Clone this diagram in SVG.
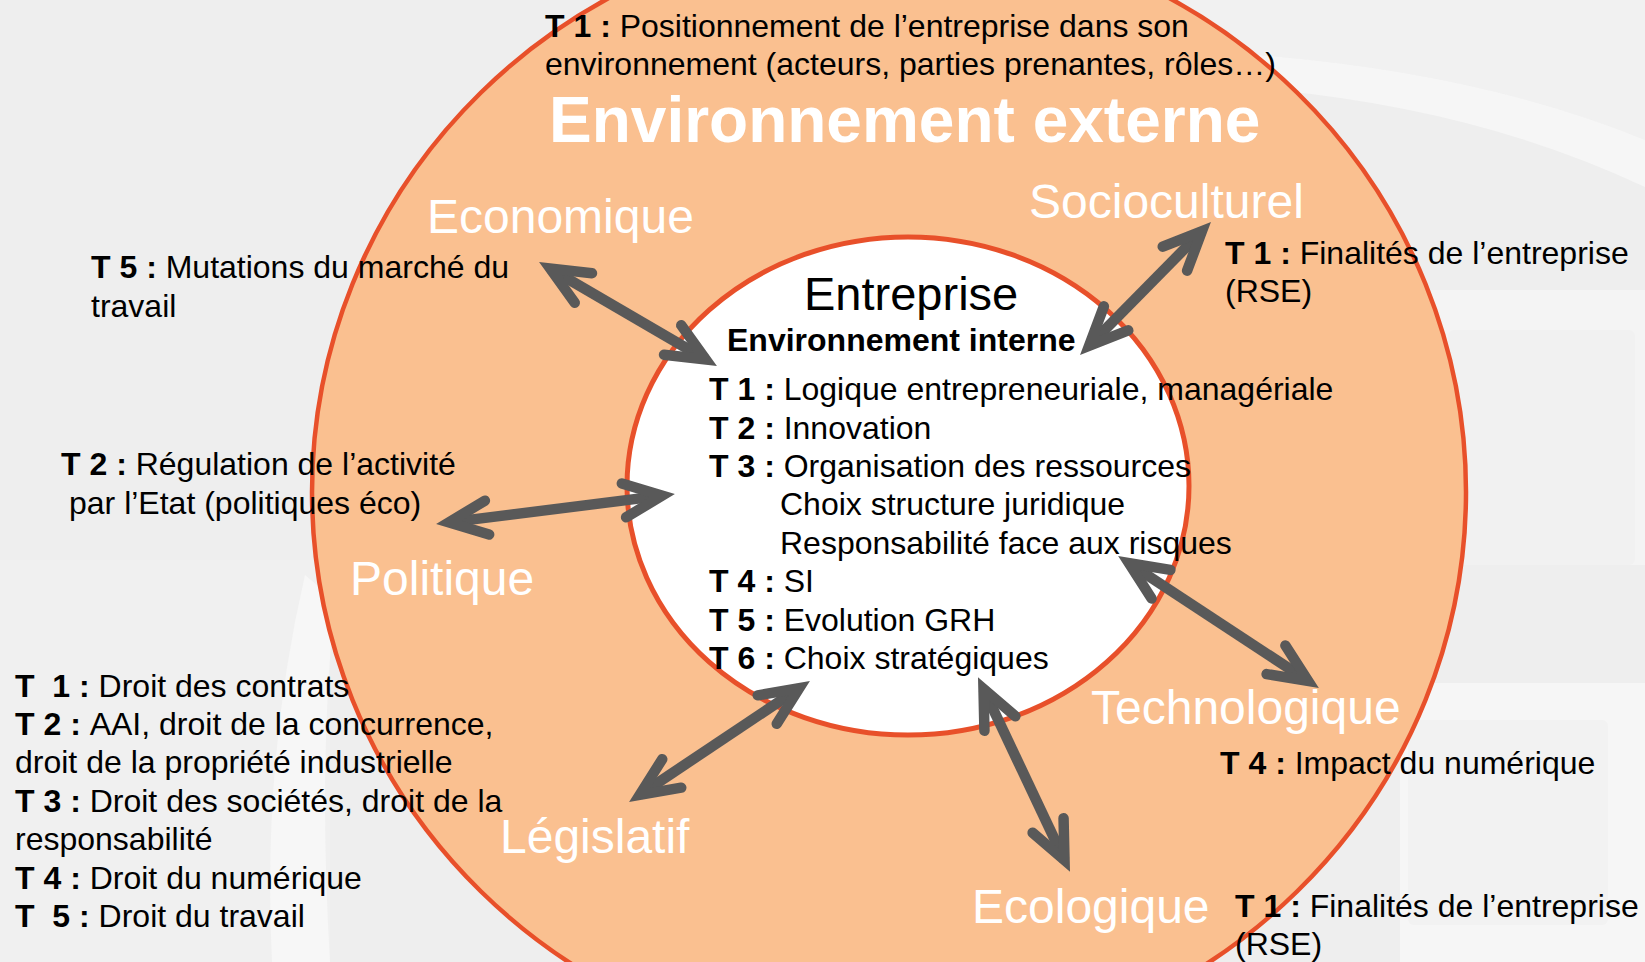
<svg xmlns="http://www.w3.org/2000/svg" width="1645" height="962" viewBox="0 0 1645 962">
<style>
text{font-family:"Liberation Sans",Arial,Helvetica,sans-serif;}
.t{font-size:32px;fill:#000;}
.b{font-weight:bold;}
.lab{font-size:48px;fill:#fff;}
.pre{white-space:pre;}
.arr{stroke:#595959;stroke-width:10.5;fill:none;stroke-linecap:butt;}
</style>
<defs>
<marker id="chev" markerUnits="userSpaceOnUse" orient="auto-start-reverse" refX="0" refY="0" markerWidth="80" markerHeight="80" viewBox="-60 -40 80 80" overflow="visible">
<path d="M -38.4 -17.1 L 0 0 L -38.4 17.1" fill="none" stroke="#595959" stroke-width="10.5" stroke-linecap="round" stroke-linejoin="miter"/>
</marker>
</defs>
<g id="background">
<rect x="0" y="0" width="1645" height="962" fill="#eeeeee"/>
<path d="M 1000 0 L 1645 0 L 1645 140 Q 1450 60 1170 50 Z" fill="#f1f1f1"/>
<path d="M 1170 50 Q 1450 60 1645 140 L 1645 187 Q 1482 110 1274 90 Z" fill="#f6f6f6"/>
<rect x="1400" y="290" width="245" height="275" fill="#f4f4f4"/>
<rect x="1448" y="330" width="187" height="235" rx="6" fill="#f1f1f1"/>
<rect x="1400" y="683" width="245" height="279" fill="#f6f6f6"/>
<rect x="1408" y="720" width="200" height="205" rx="6" fill="#f2f2f2"/>
<path d="M 0 560 L 330 560 L 330 962 L 0 962 Z" fill="#f0f0f0"/>
<path d="M 305 575 Q 262 760 272 962 L 330 962 Q 318 760 335 600 Z" fill="#f7f7f7"/>
</g>
<g id="outer">
<ellipse cx="889" cy="492" rx="577" ry="565" fill="#fac090" stroke="#e8502a" stroke-width="4.5"/>
</g>
<g id="inner">
<ellipse cx="908" cy="486" rx="281" ry="249" fill="#ffffff" stroke="#e8502a" stroke-width="5"/>
</g>
<g id="labels">
<text class="lab b" x="549" y="142" style="font-size:64px">Environnement externe</text>
<text class="lab" x="427" y="233">Economique</text>
<text class="lab" x="1029" y="218">Socioculturel</text>
<text class="lab" x="350" y="595">Politique</text>
<text class="lab" x="1091" y="724">Technologique</text>
<text class="lab" x="500" y="853">Législatif</text>
<text class="lab" x="972" y="923">Ecologique</text>
</g>
<g id="top-note">
<text class="t" x="545" y="37"><tspan class="b">T 1 : </tspan>Positionnement de l’entreprise dans son</text>
<text class="t" x="545" y="75">environnement (acteurs, parties prenantes, rôles…)</text>
</g>
<g id="entreprise">
<text class="t" x="804" y="310" style="font-size:47px">Entreprise</text>
<text class="t b" x="727" y="351">Environnement interne</text>
<text class="t" x="709" y="400"><tspan class="b">T 1 : </tspan>Logique entrepreneuriale, managériale</text>
<text class="t" x="709" y="438.5"><tspan class="b">T 2 : </tspan>Innovation</text>
<text class="t" x="709" y="477"><tspan class="b">T 3 : </tspan>Organisation des ressources</text>
<text class="t" x="780" y="515">Choix structure juridique</text>
<text class="t" x="780" y="553.5">Responsabilité face aux risques</text>
<text class="t" x="709" y="592"><tspan class="b">T 4 : </tspan>SI</text>
<text class="t" x="709" y="630.5"><tspan class="b">T 5 : </tspan>Evolution GRH</text>
<text class="t" x="709" y="669"><tspan class="b">T 6 : </tspan>Choix stratégiques</text>
</g>
<g id="note-eco">
<text class="t" x="91" y="278"><tspan class="b">T 5 : </tspan>Mutations du marché du</text>
<text class="t" x="91" y="317">travail</text>
</g>
<g id="note-pol">
<text class="t" x="61" y="475"><tspan class="b">T 2 : </tspan>Régulation de l’activité</text>
<text class="t" x="69" y="514">par l’Etat (politiques éco)</text>
</g>
<g id="note-leg">
<text class="t pre" x="15" y="696.5"><tspan class="b">T  1 : </tspan>Droit des contrats</text>
<text class="t" x="15" y="735"><tspan class="b">T 2 : </tspan>AAI, droit de la concurrence,</text>
<text class="t" x="15" y="773">droit de la propriété industrielle</text>
<text class="t" x="15" y="811.5"><tspan class="b">T 3 : </tspan>Droit des sociétés, droit de la</text>
<text class="t" x="15" y="850">responsabilité</text>
<text class="t" x="15" y="888.5"><tspan class="b">T 4 : </tspan>Droit du numérique</text>
<text class="t pre" x="15" y="927"><tspan class="b">T  5 : </tspan>Droit du travail</text>
</g>
<g id="note-socio">
<text class="t" x="1225" y="264"><tspan class="b">T 1 : </tspan>Finalités de l’entreprise</text>
<text class="t" x="1225" y="302">(RSE)</text>
</g>
<g id="note-tech">
<text class="t" x="1220" y="774"><tspan class="b">T 4 : </tspan>Impact du numérique</text>
</g>
<g id="note-ecolo">
<text class="t" x="1235" y="917"><tspan class="b">T 1 : </tspan>Finalités de l’entreprise</text>
<text class="t" x="1235" y="955">(RSE)</text>
</g>
<g id="connectors">
<line class="arr" x1="550.2" y1="268.6" x2="705.8" y2="359.4" marker-start="url(#chev)" marker-end="url(#chev)"/>
<line class="arr" x1="1201.9" y1="231.3" x2="1089.1" y2="345.7" marker-start="url(#chev)" marker-end="url(#chev)"/>
<line class="arr" x1="448.9" y1="522.4" x2="662.1" y2="495.6" marker-start="url(#chev)" marker-end="url(#chev)"/>
<line class="arr" x1="1128.9" y1="563.1" x2="1308.1" y2="680.9" marker-start="url(#chev)" marker-end="url(#chev)"/>
<line class="arr" x1="983.5" y1="688.8" x2="1064.5" y2="860.2" marker-start="url(#chev)" marker-end="url(#chev)"/>
<line class="arr" x1="799.2" y1="688.2" x2="639.8" y2="794.8" marker-start="url(#chev)" marker-end="url(#chev)"/>
</g>
</svg>
